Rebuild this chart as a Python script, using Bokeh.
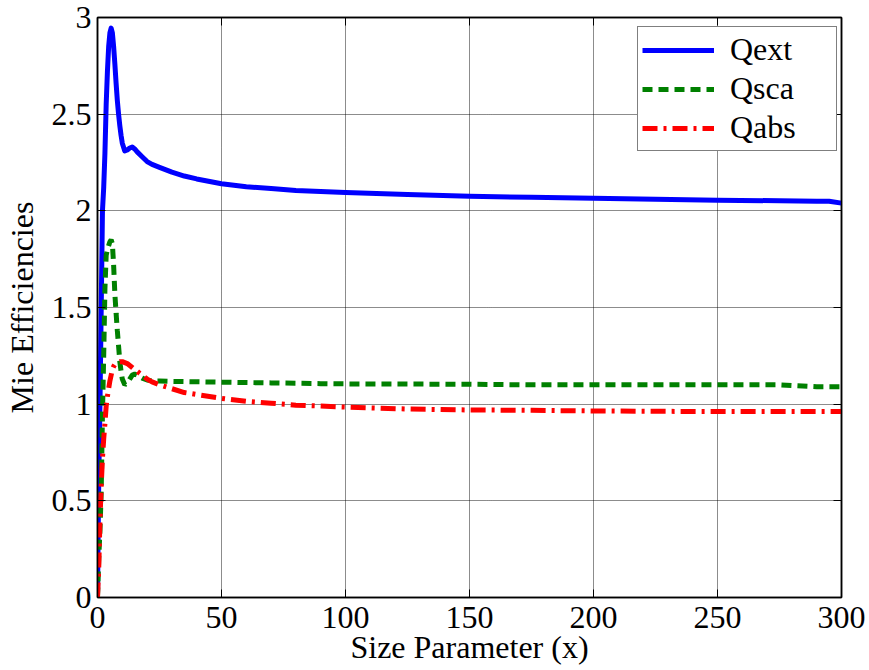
from bokeh.plotting import figure
from bokeh.models import Range1d, FixedTicker, CustomJSTickFormatter, LinearAxis, Legend
from bokeh.embed import file_html
from bokeh.resources import INLINE

# ---- data ----
size_param = [0, 0.5, 1, 1.5, 2, 2.5, 3, 3.5, 4, 4.5, 5, 5.5, 6, 6.5, 7, 7.5, 8, 8.5, 9, 9.5,
              10, 11, 12, 13, 14, 15, 16, 18, 20, 22, 25, 30, 35, 40, 50, 60, 70, 80, 90, 100,
              125, 150, 175, 200, 225, 250, 275, 290, 295, 300]
qext = [0, 0.6, 1.0, 1.5, 2.0, 2.12, 2.3, 2.55, 2.72, 2.85, 2.92, 2.945, 2.92, 2.85, 2.76, 2.66,
        2.57, 2.5, 2.44, 2.39, 2.35, 2.31, 2.315, 2.325, 2.33, 2.32, 2.305, 2.28, 2.255, 2.24,
        2.225, 2.2, 2.18, 2.165, 2.14, 2.125, 2.115, 2.105, 2.1, 2.095, 2.085, 2.075, 2.07,
        2.065, 2.06, 2.055, 2.052, 2.05, 2.05, 2.04]
qsca = [0, 0.2, 0.35, 0.55, 0.95, 1.25, 1.6, 1.77, 1.8, 1.82, 1.84, 1.85, 1.83, 1.72, 1.57, 1.47,
        1.38, 1.3, 1.22, 1.17, 1.13, 1.1, 1.11, 1.13, 1.15, 1.155, 1.15, 1.135, 1.125, 1.12,
        1.12, 1.118, 1.117, 1.116, 1.114, 1.112, 1.11, 1.108, 1.106, 1.105, 1.104, 1.103, 1.1,
        1.1, 1.1, 1.1, 1.1, 1.09, 1.09, 1.09]
qabs = [0, 0.15, 0.4, 0.58, 0.72, 0.82, 0.9, 0.99, 1.04, 1.08, 1.12, 1.15, 1.18, 1.195, 1.205,
        1.21, 1.215, 1.218, 1.22, 1.22, 1.22, 1.215, 1.21, 1.2, 1.19, 1.18, 1.17, 1.15, 1.13,
        1.115, 1.1, 1.08, 1.06, 1.05, 1.03, 1.015, 1.005, 0.995, 0.99, 0.985, 0.975, 0.97,
        0.968, 0.965, 0.963, 0.962, 0.962, 0.962, 0.962, 0.962]

x_ticks = [0, 50, 100, 150, 200, 250, 300]
y_ticks = [0, 0.5, 1, 1.5, 2, 2.5, 3]
series_names = ["Qext", "Qsca", "Qabs"]

FONT = "Liberation Serif"
FS = "32px"

p = figure(width=869, height=670, x_range=Range1d(0, 300), y_range=Range1d(0, 3),
           output_backend="svg", toolbar_location=None,
           min_border_left=97, min_border_right=28, min_border_top=17, min_border_bottom=73)
p.background_fill_color = "white"
p.border_fill_color = "white"
p.outline_line_color = "black"
p.outline_line_width = 1.5

fmt = CustomJSTickFormatter(code="return String(tick);")
blank = CustomJSTickFormatter(code="return '';")

for ax in p.xaxis:
    ax.ticker = FixedTicker(ticks=x_ticks)
for ax in p.yaxis:
    ax.ticker = FixedTicker(ticks=y_ticks)

for ax in list(p.xaxis) + list(p.yaxis):
    ax.formatter = fmt
    ax.major_label_text_font = FONT
    ax.major_label_text_font_size = FS
    ax.major_label_text_color = "black"
    ax.axis_label_text_font = FONT
    ax.axis_label_text_font_size = FS
    ax.axis_label_text_font_style = "normal"
    ax.axis_label_text_color = "black"
    ax.axis_line_color = "black"
    ax.axis_line_width = 1.5
    ax.major_tick_in = 8
    ax.major_tick_out = 0
    ax.major_tick_line_color = "black"
    ax.minor_tick_line_color = None

p.xaxis.axis_label = "Size Parameter (x)"
p.yaxis.axis_label = "Mie Efficiencies"
p.xaxis.major_label_standoff = 9
p.xaxis.axis_label_standoff = -2
p.yaxis.major_label_standoff = 6
p.yaxis.axis_label_standoff = 9

# box ticks on the top and right (MATLAB-style), no labels
top = LinearAxis(ticker=FixedTicker(ticks=x_ticks), formatter=blank,
                 major_label_text_font_size="1px",
                 major_label_standoff=0, major_tick_in=8, major_tick_out=0,
                 minor_tick_line_color=None, axis_line_color="black", axis_line_width=1.5)
right = LinearAxis(ticker=FixedTicker(ticks=y_ticks), formatter=blank,
                   major_label_text_font_size="1px",
                   major_label_standoff=0, major_tick_in=8, major_tick_out=0,
                   minor_tick_line_color=None, axis_line_color="black", axis_line_width=1.5)
p.add_layout(top, "above")
p.add_layout(right, "right")

p.xgrid.ticker = FixedTicker(ticks=x_ticks)
p.ygrid.ticker = FixedTicker(ticks=y_ticks)
for g in (p.xgrid, p.ygrid):
    g.grid_line_color = "black"
    g.grid_line_dash = "1 1"
    g.grid_line_width = 1
    g.grid_line_alpha = 0.9

r1 = p.line(size_param, qext, line_color="#0000ff", line_width=5, line_join="round")
r2 = p.line(size_param, qsca, line_color="#008000", line_width=5, line_dash="10 6")
r3 = p.line(size_param, qabs, line_color="#ff0000", line_width=5, line_dash="15 6 3 6")

legend = Legend(items=[(series_names[0], [r1]), (series_names[1], [r2]), (series_names[2], [r3])],
                location=(540, 446), orientation="vertical",
                label_text_font=FONT, label_text_font_size=FS, label_text_color="black",
                glyph_width=72, glyph_height=36, label_height=36, label_width=102,
                label_standoff=16, spacing=2, padding=4, margin=0,
                border_line_color="black", border_line_width=1.5,
                background_fill_color="white", background_fill_alpha=1)
p.add_layout(legend, "center")

open("out.html", "w").write(file_html(p, INLINE))
